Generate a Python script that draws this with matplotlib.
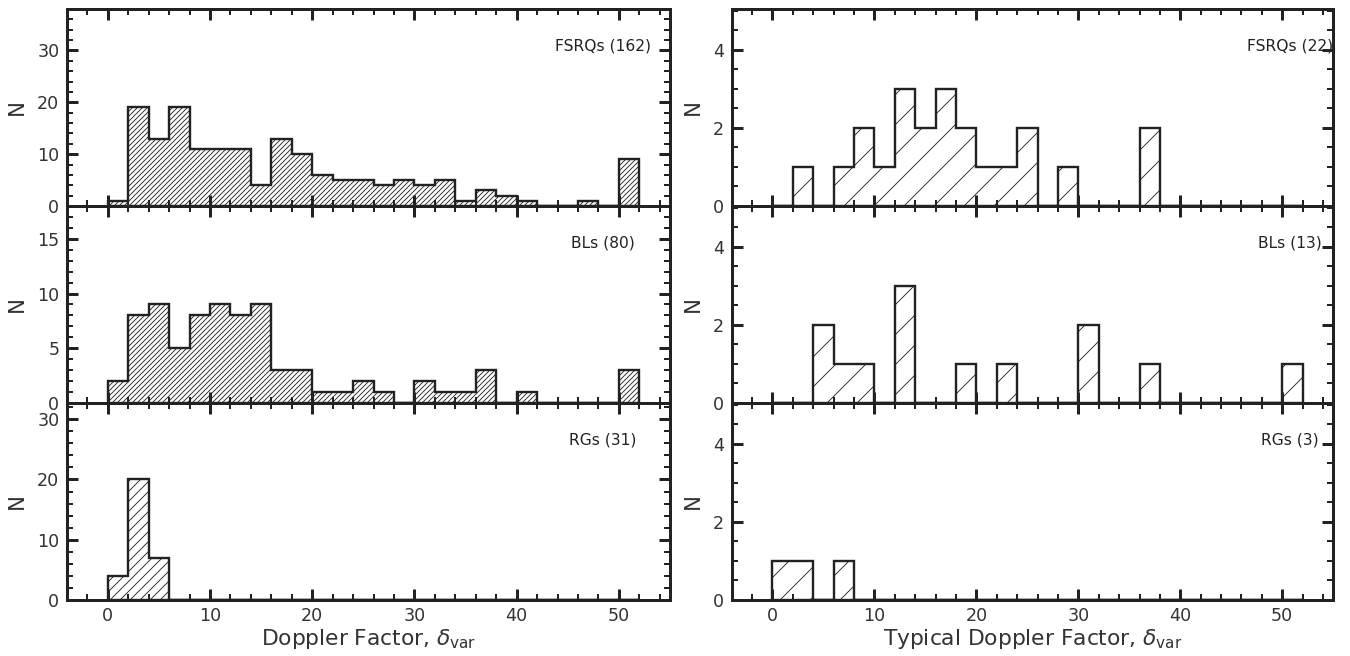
import numpy as np
import matplotlib
matplotlib.use("Agg")
import matplotlib.pyplot as plt
from matplotlib.ticker import MultipleLocator

# Bin edges (width 2) shared by all histograms
bin_edges = np.arange(0, 54, 2)

# Counts per bin, delta_var (left column)
fsrq_counts = [1, 19, 13, 19, 11, 11, 11, 4, 13, 10, 6, 5, 5,
               4, 5, 4, 5, 1, 3, 2, 1, 0, 0, 1, 0, 9]
bl_counts = [2, 8, 9, 5, 8, 9, 8, 9, 3, 3, 1, 1, 2,
             1, 0, 2, 1, 1, 3, 0, 1, 0, 0, 0, 0, 3]
rg_counts = [4, 20, 7, 0, 0, 0, 0, 0, 0, 0, 0, 0, 0,
             0, 0, 0, 0, 0, 0, 0, 0, 0, 0, 0, 0, 0]

# Counts per bin, typical delta_var (right column)
fsrq_typ_counts = [0, 1, 0, 1, 2, 1, 3, 2, 3, 2, 1, 1, 2,
                   0, 1, 0, 0, 0, 2, 0, 0, 0, 0, 0, 0, 0]
bl_typ_counts = [0, 0, 2, 1, 1, 0, 3, 0, 0, 1, 0, 1, 0,
                 0, 0, 2, 0, 0, 1, 0, 0, 0, 0, 0, 0, 1]
rg_typ_counts = [1, 1, 0, 1, 0, 0, 0, 0, 0, 0, 0, 0, 0,
                 0, 0, 0, 0, 0, 0, 0, 0, 0, 0, 0, 0, 0]

labels_left = ["FSRQs (162)", "BLs (80)", "RGs (31)"]
labels_right = ["FSRQs (22)", "BLs (13)", "RGs (3)"]

DPI = 180
plt.rcParams["font.family"] = ["DejaVu Sans"]
plt.rcParams["hatch.linewidth"] = 0.35
plt.rcParams["mathtext.fontset"] = "dejavusans"

INK = "#222222"
TXT = "#333333"

fig = plt.figure(figsize=(1350 / DPI, 656 / DPI), dpi=DPI)

bottom0 = 0.0854
row_h = 0.3003
col_x = [0.0496, 0.5420]
col_w = [0.4467, 0.4456]

dense = "/" * 12
left_sets = [
    (fsrq_counts, dense, 38.0, 10, 2, labels_left[0]),
    (bl_counts, dense, 18.0, 5, 1, labels_left[1]),
    (rg_counts, "//////", 32.7, 10, 2, labels_left[2]),
]
right_sets = [
    (fsrq_typ_counts, "//", 5.05, 2, 0.5, labels_right[0]),
    (bl_typ_counts, "//", 5.05, 2, 0.5, labels_right[1]),
    (rg_typ_counts, "//", 5.05, 2, 0.5, labels_right[2]),
]

centers = 0.5 * (bin_edges[:-1] + bin_edges[1:])


def style_axes(ax, ymax, ymaj, ymin_step, show_xlabels):
    ax.set_xlim(-4, 55)
    ax.set_ylim(0, ymax)
    ax.xaxis.set_major_locator(MultipleLocator(10))
    ax.xaxis.set_minor_locator(MultipleLocator(2))
    ax.yaxis.set_major_locator(MultipleLocator(ymaj))
    ax.yaxis.set_minor_locator(MultipleLocator(ymin_step))
    for sp in ax.spines.values():
        sp.set_linewidth(1.2)
        sp.set_color(INK)
    ax.tick_params(which="both", direction="in", top=True, right=True,
                   color=INK, labelcolor=TXT, labelsize=7.0, pad=3)
    ax.tick_params(which="major", length=4.4, width=1.2)
    ax.tick_params(which="minor", length=2.2, width=0.8)
    if not show_xlabels:
        ax.tick_params(labelbottom=False)
    ax.set_ylabel("N", fontsize=8.5, color=TXT, labelpad=4)


for col, sets in enumerate([left_sets, right_sets]):
    for row, (counts, hatch, ymax, ymaj, ymin_step, label) in enumerate(sets):
        ax = fig.add_axes([col_x[col], bottom0 + (2 - row) * row_h,
                           col_w[col], row_h])
        ax.hist(centers, bins=bin_edges, weights=counts,
                histtype="stepfilled", facecolor="none", edgecolor=INK,
                linewidth=0.95, hatch=hatch)
        style_axes(ax, ymax, ymaj, ymin_step, show_xlabels=(row == 2))
        xt = 0.889 if col == 0 else 0.928
        ax.text(xt, 0.81, label, transform=ax.transAxes, ha="center",
                va="center", fontsize=6.2, color=INK)
        if row == 2:
            xl = (r"Doppler Factor, $\delta_{\rm var}$" if col == 0
                  else r"Typical Doppler Factor, $\delta_{\rm var}$")
            ax.set_xlabel(xl, fontsize=8.7, color=TXT, labelpad=0.8)

fig.savefig("out.png", dpi=DPI)
